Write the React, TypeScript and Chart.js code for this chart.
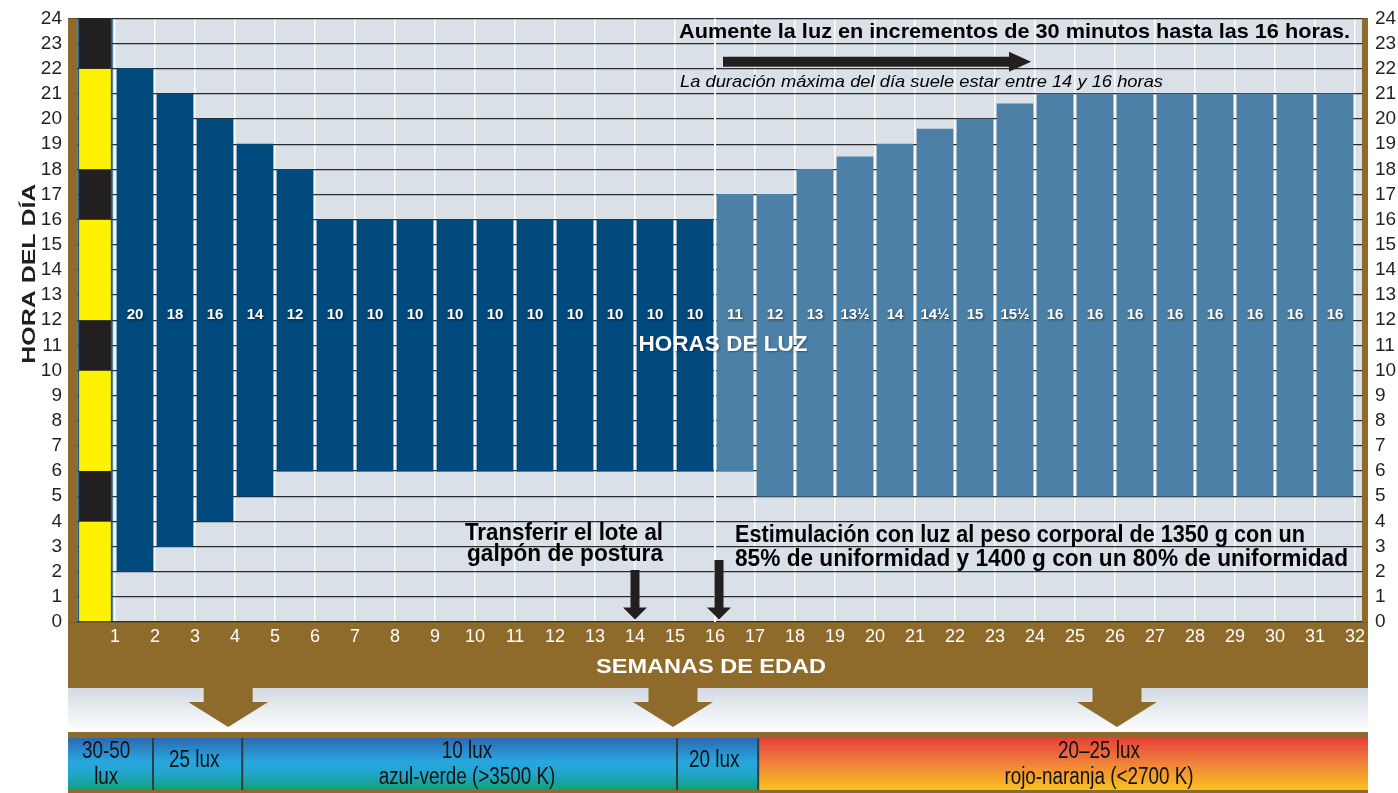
import { useEffect, useRef } from "react";
import { Chart, registerables } from "chart.js";

Chart.register(...registerables);

// ---------- data ----------
const weekTicks = [1, 2, 3, 4, 5, 6, 7, 8, 9, 10, 11, 12, 13, 14, 15, 16, 17, 18, 19, 20, 21, 22, 23, 24, 25, 26, 27, 28, 29, 30, 31, 32];
const hourTicks = [0, 1, 2, 3, 4, 5, 6, 7, 8, 9, 10, 11, 12, 13, 14, 15, 16, 17, 18, 19, 20, 21, 22, 23, 24];
const barWeeks = [1, 2, 3, 4, 5, 6, 7, 8, 9, 10, 11, 12, 13, 14, 15, 16, 17, 18, 19, 20, 21, 22, 23, 24, 25, 26, 27, 28, 29, 30, 31];
const lightsOn = [2, 3, 4, 5, 6, 6, 6, 6, 6, 6, 6, 6, 6, 6, 6, 6, 5, 5, 5, 5, 5, 5, 5, 5, 5, 5, 5, 5, 5, 5, 5];
const lightsOff = [22, 21, 20, 19, 18, 16, 16, 16, 16, 16, 16, 16, 16, 16, 16, 17, 17, 18, 18.5, 19, 19.6, 20, 20.6, 21, 21, 21, 21, 21, 21, 21, 21];
const hoursLabels = ["20", "18", "16", "14", "12", "10", "10", "10", "10", "10", "10", "10", "10", "10", "10", "11", "12", "13", "13½", "14", "14½", "15", "15½", "16", "16", "16", "16", "16", "16", "16", "16"];
const stimulationWeek = 16;
const transferWeek = 14;
const dayNightBounds = [0, 4, 6, 10, 12, 16, 18, 22, 24];
const luxBreaks = [1.95, 4.18, 15.05, 17.08];
const luxLines = [["30-50", "lux"], ["25 lux"], ["10 lux", "azul-verde (>3500 K)"], ["20 lux"], ["20–25 lux", "rojo-naranja (<2700 K)"]];
const luxTone = ["cool", "cool", "cool", "cool", "warm"];
const luxLabelWeeks = [0.78, 2.98, 9.8, 15.98, 25.6];
const bandArrowWeeks = [3.83, 14.95, 26.05];

const topNote = "Aumente la luz en incrementos de 30 minutos hasta las 16 horas.";
const maxNote = "La duración máxima del día suele estar entre 14 y 16 horas";
const transferNote = ["Transferir el lote al", "galpón de postura"];
const stimNote = ["Estimulación con luz al peso corporal de 1350 g con un", "85% de uniformidad y 1400 g con un 80% de uniformidad"];
const centerLabel = "HORAS DE LUZ";
const xTitle = "SEMANAS DE EDAD";
const yTitle = "HORA DEL DÍA";

// ---------- style ----------
const PLOT_BG = "#d9e0e7";
const BROWN = "#8f6b2b";
const DARK_BAR = "#004a7e";
const LIGHT_BAR = "#4c80a6";
const YELLOW = "#fff200";
const BLACK = "#231f20";
const COLUMN_EDGE = "#1d5a8f";
const TEXT = "#231f20";
const SANS = '"Liberation Sans", Arial, sans-serif';

function fontAvailable(name: string) {
  try {
    const c = document.createElement("canvas").getContext("2d");
    if (!c) return false;
    const s = "abcdefghijklmnopqrstuvwxyz0123456789";
    c.font = "40px monospace";
    const base = c.measureText(s).width;
    c.font = `40px "${name}", monospace`;
    return c.measureText(s).width !== base;
  } catch (e) {
    return false;
  }
}
const HAS_NARROW = fontAvailable("Liberation Sans Narrow");
const NARROW = HAS_NARROW ? '"Liberation Sans Narrow", "Liberation Sans", sans-serif' : SANS;
const NARROW_K = HAS_NARROW ? 1 : 0.9;

function narrowText(ctx: any, text: string, x: number, y: number, size: number, align: string) {
  ctx.save();
  ctx.font = `${size}px ${HAS_NARROW ? '"Liberation Sans Narrow", "Liberation Sans"' : '"Liberation Sans"'}, sans-serif`;
  ctx.textAlign = align;
  ctx.textBaseline = "middle";
  ctx.translate(x, y);
  if (!HAS_NARROW) ctx.scale(0.82, 1);
  ctx.fillText(text, 0, 0);
  ctx.restore();
}

function fitText(ctx: any, text: string, x: number, y: number, width: number, align: string) {
  const m = ctx.measureText(text).width || 1;
  ctx.save();
  ctx.translate(x, y);
  ctx.scale(width / m, 1);
  ctx.textAlign = align;
  ctx.fillText(text, 0, 0);
  ctx.restore();
}

function downArrow(ctx: any, cx: number, top: number, tip: number) {
  const shaft = 4.5, head = 12, headLen = 12;
  ctx.beginPath();
  ctx.moveTo(cx - shaft, top);
  ctx.lineTo(cx + shaft, top);
  ctx.lineTo(cx + shaft, tip - headLen);
  ctx.lineTo(cx + head, tip - headLen);
  ctx.lineTo(cx, tip);
  ctx.lineTo(cx - head, tip - headLen);
  ctx.lineTo(cx - shaft, tip - headLen);
  ctx.closePath();
  ctx.fill();
}

const decorPlugin = {
  id: "decor",
  beforeDraw(chart: any) {
    const { ctx, chartArea: a } = chart;
    const xs = chart.scales.x;
    const ys = chart.scales.y;
    const W = a.right - a.left;
    ctx.save();
    ctx.fillStyle = PLOT_BG;
    ctx.fillRect(a.left, a.top, W, a.bottom - a.top);

    // brown axis band
    const bandH = 66;
    const bandBottom = a.bottom + bandH;
    ctx.fillStyle = BROWN;
    ctx.fillRect(a.left, a.bottom, W, bandH);

    // fade strip
    const fadeH = 44;
    const fg = ctx.createLinearGradient(0, bandBottom, 0, bandBottom + fadeH);
    fg.addColorStop(0, "#d3dae3");
    fg.addColorStop(1, "#ffffff");
    ctx.fillStyle = fg;
    ctx.fillRect(a.left, bandBottom, W, fadeH);

    // arrows from band
    ctx.fillStyle = BROWN;
    for (const w of bandArrowWeeks) {
      const cx = xs.getPixelForValue(w);
      ctx.beginPath();
      ctx.moveTo(cx - 24.5, bandBottom - 1);
      ctx.lineTo(cx + 24.5, bandBottom - 1);
      ctx.lineTo(cx + 24.5, bandBottom + 14);
      ctx.lineTo(cx + 40, bandBottom + 14);
      ctx.lineTo(cx, bandBottom + 39);
      ctx.lineTo(cx - 40, bandBottom + 14);
      ctx.lineTo(cx - 24.5, bandBottom + 14);
      ctx.closePath();
      ctx.fill();
    }

    // lux bar
    const luxTop = bandBottom + fadeH;
    ctx.fillStyle = BROWN;
    ctx.fillRect(a.left, luxTop, W, chart.height - luxTop);
    const inTop = luxTop + 6;
    const inBot = chart.height - 3;
    const edges = [a.left, ...luxBreaks.map((b) => xs.getPixelForValue(b)), a.right];
    const cool = ctx.createLinearGradient(0, inTop, 0, inBot);
    cool.addColorStop(0, "#2d68b2");
    cool.addColorStop(0.45, "#27a7df");
    cool.addColorStop(0.7, "#22a5c9");
    cool.addColorStop(1, "#0fa179");
    const warm = ctx.createLinearGradient(0, inTop, 0, inBot);
    warm.addColorStop(0, "#e6403a");
    warm.addColorStop(0.5, "#f0843a");
    warm.addColorStop(1, "#f9c21e");
    for (let i = 0; i < luxLines.length; i++) {
      ctx.fillStyle = luxTone[i] === "warm" ? warm : cool;
      ctx.fillRect(edges[i], inTop, edges[i + 1] - edges[i], inBot - inTop);
    }
    ctx.strokeStyle = "#2f3b45";
    ctx.lineWidth = 2;
    for (let i = 1; i < edges.length - 1; i++) {
      ctx.beginPath();
      ctx.moveTo(edges[i], inTop);
      ctx.lineTo(edges[i], inBot);
      ctx.stroke();
    }
    ctx.fillStyle = "#111";
    const mid = (inTop + inBot) / 2;
    luxLines.forEach((lines, i) => {
      const x = xs.getPixelForValue(luxLabelWeeks[i]);
      if (lines.length === 1) {
        narrowText(ctx, lines[0], x, mid - 3, 23, "center");
      } else {
        narrowText(ctx, lines[0], x, mid - 12, 23, "center");
        narrowText(ctx, lines[1], x, mid + 14, 23, "center");
      }
    });

    // y title
    ctx.save();
    ctx.fillStyle = TEXT;
    ctx.font = `bold 18px ${SANS}`;
    ctx.textBaseline = "alphabetic";
    ctx.translate(35, ys.getPixelForValue(13.85));
    ctx.rotate(-Math.PI / 2);
    fitText(ctx, yTitle, 0, 0, 180, "center");
    ctx.restore();

    ctx.restore();
  },
  afterDatasetsDraw(chart: any) {
    const { ctx, chartArea: a } = chart;
    const xs = chart.scales.x;
    const ys = chart.scales.y;
    ctx.save();

    // side strips
    ctx.fillStyle = BROWN;
    ctx.fillRect(a.left, a.top, 9, a.bottom - a.top);
    ctx.fillRect(a.right - 6, a.top, 6, a.bottom - a.top);

    // stimulation divider
    const sx = xs.getPixelForValue(stimulationWeek);
    ctx.strokeStyle = "#ffffff";
    ctx.lineWidth = 2;
    ctx.beginPath();
    ctx.moveTo(sx, a.top);
    ctx.lineTo(sx, a.bottom);
    ctx.stroke();

    // bar labels
    const meta = chart.getDatasetMeta(1);
    ctx.font = `bold 15px ${SANS}`;
    ctx.fillStyle = "#ffffff";
    ctx.textAlign = "center";
    ctx.textBaseline = "middle";
    ctx.shadowColor = "rgba(0,0,0,0.55)";
    ctx.shadowBlur = 3;
    ctx.shadowOffsetX = 1;
    ctx.shadowOffsetY = 1;
    const ly = ys.getPixelForValue(12.2);
    meta.data.forEach((el: any, i: number) => {
      ctx.fillText(hoursLabels[i], el.x, ly);
    });
    ctx.shadowColor = "rgba(0,0,0,0.35)";
    ctx.shadowBlur = 2;
    ctx.font = `bold 22px ${SANS}`;
    fitText(ctx, centerLabel, xs.getPixelForValue(16.2), ys.getPixelForValue(11.0), 169, "center");
    ctx.shadowColor = "transparent";
    ctx.shadowBlur = 0;
    ctx.shadowOffsetX = 0;
    ctx.shadowOffsetY = 0;

    // top note + arrow
    ctx.fillStyle = "#000";
    ctx.textBaseline = "middle";
    ctx.font = `bold 21px ${SANS}`;
    fitText(ctx, topNote, xs.getPixelForValue(15.1), ys.getPixelForValue(23.45), 671, "left");
    const ay = ys.getPixelForValue(22.28);
    const ax0 = xs.getPixelForValue(16.2);
    const ax1 = xs.getPixelForValue(23.9);
    ctx.fillStyle = BLACK;
    ctx.beginPath();
    ctx.moveTo(ax0, ay - 5);
    ctx.lineTo(ax1 - 22, ay - 5);
    ctx.lineTo(ax1 - 22, ay - 10);
    ctx.lineTo(ax1, ay);
    ctx.lineTo(ax1 - 22, ay + 10);
    ctx.lineTo(ax1 - 22, ay + 5);
    ctx.lineTo(ax0, ay + 5);
    ctx.closePath();
    ctx.fill();
    ctx.fillStyle = "#000";
    ctx.font = `italic 17px ${SANS}`;
    fitText(ctx, maxNote, xs.getPixelForValue(15.125), ys.getPixelForValue(21.47), 483, "left");

    // transfer note
    ctx.font = `bold 23px ${SANS}`;
    fitText(ctx, transferNote[0], xs.getPixelForValue(12.225), ys.getPixelForValue(3.52), 198, "center");
    fitText(ctx, transferNote[1], xs.getPixelForValue(12.25), ys.getPixelForValue(2.66), 196, "center");
    fitText(ctx, stimNote[0], xs.getPixelForValue(16.5), ys.getPixelForValue(3.44), 570, "left");
    fitText(ctx, stimNote[1], xs.getPixelForValue(16.5), ys.getPixelForValue(2.48), 613, "left");

    ctx.fillStyle = BLACK;
    downArrow(ctx, xs.getPixelForValue(transferWeek), ys.getPixelForValue(2.07), ys.getPixelForValue(0.1));
    downArrow(ctx, xs.getPixelForValue(stimulationWeek + 0.1), ys.getPixelForValue(2.47), ys.getPixelForValue(0.1));

    ctx.restore();
  },
  afterDraw(chart: any) {
    const { ctx, chartArea: a } = chart;
    const xs = chart.scales.x;
    ctx.save();
    ctx.fillStyle = "#ffffff";
    ctx.textBaseline = "middle";
    ctx.font = `bold 21px ${SANS}`;
    fitText(ctx, xTitle, xs.getPixelForValue(15.9), a.bottom + 45.5, 230, "center");
    ctx.restore();
  },
};

export default function App() {
  const ref = useRef<HTMLCanvasElement>(null);
  useEffect(() => {
    document.body.style.margin = "0";
    document.body.style.overflow = "hidden";
    const canvas = ref.current;
    if (!canvas) return;

    const columnData = dayNightBounds.slice(0, -1).map((b, i) => ({ x: 0.5, y: [b, dayNightBounds[i + 1]] }));
    const columnColors = columnData.map((_, i) => (i % 2 === 0 ? YELLOW : BLACK));
    const barData = barWeeks.map((w, i) => ({ x: w + 0.5, y: [lightsOn[i], lightsOff[i]] }));
    const barColors = barWeeks.map((w) => (w < stimulationWeek ? DARK_BAR : LIGHT_BAR));

    const yTickFont = { family: NARROW, size: Math.round(21 * NARROW_K) };

    const chart = new Chart(canvas, {
      type: "bar",
      data: {
        datasets: [
          {
            data: columnData as any,
            backgroundColor: columnColors,
            borderColor: COLUMN_EDGE,
            borderWidth: { left: 2, right: 2, top: 0, bottom: 0 } as any,
            borderSkipped: false,
            barThickness: 35,
            grouped: false,
          } as any,
          {
            data: barData as any,
            backgroundColor: barColors,
            borderWidth: 0,
            barThickness: 36,
            grouped: false,
          } as any,
        ],
      },
      options: {
        animation: false,
        responsive: true,
        maintainAspectRatio: false,
        layout: { padding: { top: 18, left: 0, right: 0, bottom: 0 } },
        plugins: { legend: { display: false }, tooltip: { enabled: false } },
        scales: {
          x: {
            type: "linear",
            min: -0.175,
            max: 32.325,
            offset: false,
            grid: { color: "#ffffff", lineWidth: 1.5, drawTicks: false, offset: false } as any,
            border: { display: false },
            ticks: {
              stepSize: 1,
              includeBounds: false,
              autoSkip: false,
              maxRotation: 0,
              minRotation: 0,
              color: "#ffffff",
              padding: 4,
              font: { family: NARROW, size: Math.round(20 * NARROW_K) },
              callback: (v: any) => (weekTicks.includes(Number(v)) ? String(v) : ""),
            } as any,
            afterFit: (s: any) => {
              s.height = 171;
            },
          },
          y: {
            type: "linear",
            position: "left",
            min: hourTicks[0],
            max: hourTicks[hourTicks.length - 1],
            grid: { color: "#2b2b2b", lineWidth: 1.3, drawTicks: false },
            border: { display: false },
            ticks: { stepSize: 1, autoSkip: false, color: TEXT, padding: 6, font: yTickFont } as any,
            afterFit: (s: any) => {
              s.width = 68;
            },
          },
          y2: {
            type: "linear",
            position: "right",
            min: hourTicks[0],
            max: hourTicks[hourTicks.length - 1],
            grid: { display: false, drawTicks: false },
            border: { display: false },
            ticks: { stepSize: 1, autoSkip: false, color: TEXT, padding: 7, font: yTickFont } as any,
            afterFit: (s: any) => {
              s.width = 30;
            },
          },
        },
      } as any,
      plugins: [decorPlugin as any],
    });
    return () => chart.destroy();
  }, []);

  return (
    <div style={{ position: "relative", width: 1398, height: 793 }}>
      <canvas ref={ref} />
    </div>
  );
}
